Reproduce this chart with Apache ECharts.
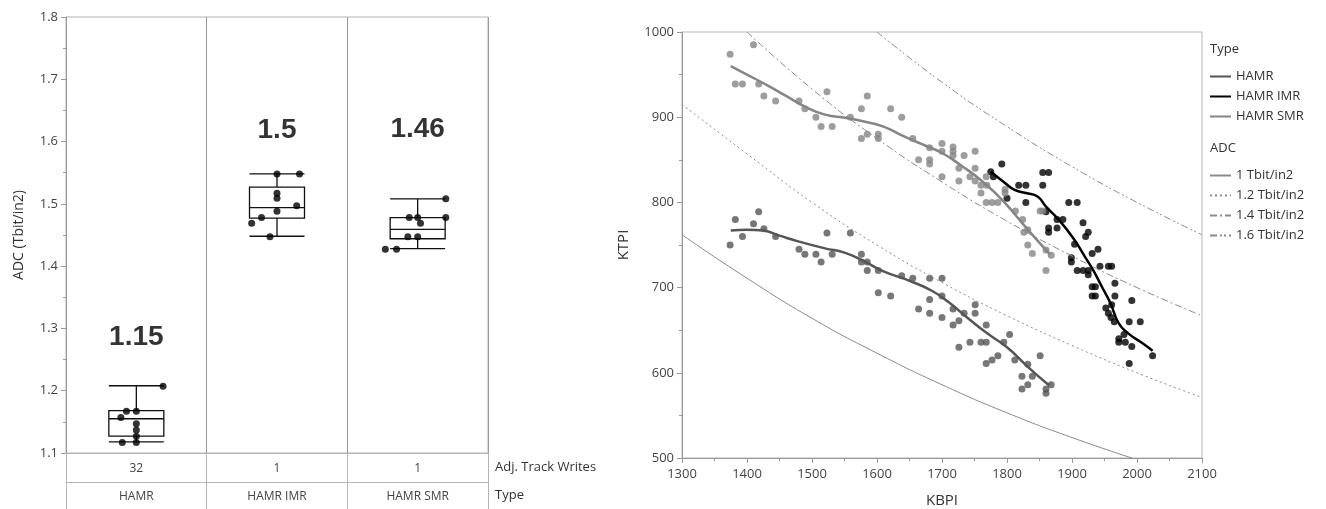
<!DOCTYPE html>
<html>
<head>
<meta charset="utf-8">
<title>ADC by type / KTPI vs KBPI</title>
<script src="https://cdn.jsdelivr.net/npm/echarts@6/dist/echarts.min.js"></script>
<style>
  html, body { margin: 0; padding: 0; background: #fff; }
  #chart { width: 1326px; height: 509px; }
</style>
</head>
<body>
<div id="chart"></div>
<script>
// left panel: ADC per type
var types = ['HAMR', 'HAMR IMR', 'HAMR SMR']
var trackWrites = ['32', '1', '1']
// [low whisker, Q1, median, Q3, high whisker]
var boxStats = [
  [1.118, 1.127, 1.155, 1.168, 1.208],
  [1.448, 1.477, 1.494, 1.527, 1.548],
  [1.428, 1.444, 1.459, 1.478, 1.508]
]
var hamrAdc = [1.207, 1.167, 1.167, 1.157, 1.147, 1.137, 1.127, 1.117, 1.117]
var hamrJitter = [0.19, -0.07, 0, -0.11, 0, 0, 0, -0.10, 0]
var imrAdc = [1.548, 1.548, 1.517, 1.509, 1.497, 1.488, 1.478, 1.469, 1.447]
var imrJitter = [0, 0.16, 0, 0, 0.14, 0, -0.11, -0.18, -0.05]
var smrAdc = [1.508, 1.478, 1.478, 1.478, 1.469, 1.447, 1.447, 1.427, 1.427]
var smrJitter = [0.2, -0.06, 0, 0.2, 0.02, -0.07, 0, -0.23, -0.15]
var meanLabelY = [1.285, 1.618, 1.62]

// right panel: KTPI vs KBPI
var hamrPts = [[1374,750],[1382,780],[1393,760],[1410,775],[1418,789],[1426,769],[1444,760],[1480,745],[1489,739],
  [1506,739],[1514,730],[1523,764],[1531,739],[1559,764],[1576,739],[1576,730],[1585,730],[1585,720],[1602,720],
  [1602,694],[1621,690],[1638,714],[1655,711],[1664,675],[1681,711],[1681,686],[1681,670],[1700,711],[1700,690],
  [1700,665],[1717,675],[1717,656],[1726,661],[1726,630],[1734,670],[1743,636],[1751,670],[1751,680],[1760,636],
  [1768,656],[1768,636],[1768,611],[1777,615],[1786,620],[1795,636],[1804,645],[1812,615],[1832,610],[1851,620],
  [1823,596],[1839,596],[1832,586],[1823,581],[1860,581],[1868,586],[1860,576]]
var imrPts = [[1775,836],[1779,830],[1792,845],[1800,805],[1818,820],[1829,820],[1829,800],[1855,835],[1864,835],
  [1855,820],[1860,789],[1864,770],[1864,765],[1877,780],[1886,780],[1877,770],[1895,800],[1908,800],[1917,776],
  [1925,765],[1921,760],[1904,751],[1899,735],[1899,730],[1908,720],[1917,720],[1925,720],[1925,715],[1931,740],
  [1940,745],[1943,725],[1956,725],[1961,725],[1931,701],[1936,701],[1931,690],[1936,690],[1966,705],[1966,690],
  [1952,676],[1956,670],[1960,665],[1965,660],[1961,680],[1992,685],[1988,660],[2005,660],[1972,640],[1982,636],
  [1972,636],[1992,631],[1980,645],[1988,611],[2024,620]]
var smrPts = [[1374,974],[1382,939],[1393,939],[1410,985],[1418,939],[1426,925],[1444,919],[1480,919],[1489,910],
  [1506,900],[1514,889],[1523,930],[1531,889],[1559,900],[1576,875],[1576,910],[1585,925],[1585,880],[1602,880],
  [1602,875],[1621,910],[1638,900],[1655,875],[1664,850],[1681,864],[1681,850],[1681,845],[1700,869],[1700,860],
  [1700,830],[1717,865],[1717,860],[1717,855],[1726,840],[1726,825],[1734,855],[1743,830],[1751,860],[1751,840],
  [1751,825],[1760,820],[1760,811],[1768,830],[1769,820],[1768,800],[1777,800],[1786,800],[1797,815],[1797,811],
  [1813,790],[1824,780],[1851,790],[1855,790],[1832,768],[1826,765],[1832,750],[1839,740],[1860,744],[1868,738],
  [1860,720]]
var hamrFit = [[1375,767],[1400,768],[1425,767],[1450,761],[1480,754],[1520,746],[1550,741],[1580,731],[1610,719],
  [1650,708],[1685,696],[1710,683],[1740,664],[1770,646],[1800,630],[1832,607],[1865,585]]
var imrFit = [[1775,836],[1795,824],[1811,815],[1829,811],[1847,807],[1860,795],[1878,781],[1902,758],[1920,736],
  [1933,720],[1946,701],[1959,682],[1972,658],[1987,646],[2008,635],[2024,626]]
var smrFit = [[1375,960],[1400,950],[1430,938],[1460,925],[1490,912],[1520,903],[1553,899],[1580,895],[1610,889],
  [1640,878],[1670,868],[1700,858],[1730,843],[1760,826],[1795,801],[1832,768],[1866,739]]
// ADC reference curves
var adc1 = [[1300,762],[1400,711],[1500,664],[1600,623],[1700,586],[1800,553],[1900,524],[2000,498]]
var adc12 = [[1300,915],[1400,857],[1500,800],[1600,750],[1700,706],[1800,667],[1900,632],[2000,600],[2100,571]]
var adc14 = [[1400,1000],[1500,933],[1600,875],[1700,824],[1800,778],[1900,737],[2000,700],[2100,667]]
var adc16 = [[1600,1000],[1700,941],[1800,889],[1900,842],[2000,800],[2100,762]]

var FONT = 'Open Sans'
var chart = echarts.init(document.getElementById('chart'))

function jittered(vals, jit, idx) {
  return vals.map(function(v, i) { return [idx + jit[i], v] })
}
function mean(arr) {
  return arr.reduce(function(a, b) { return a + b }, 0) / arr.length
}
var means = [mean(hamrAdc), mean(imrAdc), mean(smrAdc)]

var tickLbl = { color: '#444', fontFamily: FONT, fontSize: 13 }
var plain = function(v) { return String(v) }

chart.setOption({
  animation: false,
  textStyle: { fontFamily: FONT },
  grid: [
    { left: 66, top: 17, width: 422, height: 436, show: true, borderColor: '#b5b5b5', borderWidth: 1,
      outerBoundsMode: 'none' },
    { left: 682, top: 32, width: 520, height: 426, show: true, borderColor: '#b5b5b5', borderWidth: 1,
      outerBoundsMode: 'none' }
  ],
  xAxis: [
    {
      gridIndex: 0, type: 'category', data: types,
      axisLine: { onZero: false, lineStyle: { color: '#b5b5b5' } },
      axisTick: { show: true, length: 29, interval: 0, lineStyle: { color: '#b5b5b5' } },
      axisLabel: { margin: 10, formatter: function(v, i) { return trackWrites[i] }, color: '#444', fontSize: 12 },
      splitLine: { show: true, interval: 0, lineStyle: { color: '#999' } }
    },
    {
      gridIndex: 0, type: 'category', data: types, offset: 29, position: 'bottom',
      axisLine: { onZero: false, lineStyle: { color: '#b5b5b5' } },
      axisTick: { show: true, length: 30, interval: 0, lineStyle: { color: '#b5b5b5' } },
      axisLabel: { margin: 9, color: '#444', fontSize: 12 }
    },
    { gridIndex: 0, type: 'value', min: -0.5, max: 2.5, show: false, axisLine: { onZero: false } },
    {
      gridIndex: 1, type: 'value', min: 1300, max: 2100, interval: 100,
      name: 'KBPI', nameLocation: 'middle', nameGap: 35,
      nameTextStyle: { color: '#333', fontSize: 15 },
      axisLine: { onZero: false, lineStyle: { color: '#999' } },
      axisTick: { length: 5, lineStyle: { color: '#999' } },
      minorTick: { show: true, splitNumber: 2, length: 3, lineStyle: { color: '#999' } },
      axisLabel: Object.assign({ margin: 10, formatter: plain }, tickLbl),
      splitLine: { show: false }
    }
  ],
  yAxis: [
    {
      gridIndex: 0, type: 'value', min: 1.1, max: 1.8, interval: 0.1,
      name: 'ADC (Tbit/in2)', nameLocation: 'middle', nameGap: 40,
      nameTextStyle: { color: '#333', fontSize: 14 },
      axisLine: { show: true, onZero: false, lineStyle: { color: '#999' } },
      axisTick: { show: true, length: 5, lineStyle: { color: '#999' } },
      minorTick: { show: true, splitNumber: 2, length: 3, lineStyle: { color: '#999' } },
      axisLabel: Object.assign({ margin: 8 }, tickLbl),
      splitLine: { show: false }
    },
    {
      gridIndex: 1, type: 'value', min: 500, max: 1000, interval: 100,
      name: 'KTPI', nameLocation: 'middle', nameGap: 51,
      nameTextStyle: { color: '#333', fontSize: 15 },
      axisLine: { show: true, onZero: false, lineStyle: { color: '#999' } },
      axisTick: { show: true, length: 5, lineStyle: { color: '#999' } },
      minorTick: { show: true, splitNumber: 2, length: 3, lineStyle: { color: '#999' } },
      axisLabel: Object.assign({ margin: 8, formatter: plain }, tickLbl),
      splitLine: { show: false }
    }
  ],
  legend: [
    {
      left: 1209, top: 70, orient: 'vertical', padding: 0, itemGap: 7,
      itemWidth: 21, itemHeight: 14, itemStyle: { opacity: 0 },
      textStyle: { color: '#333', fontSize: 13, fontFamily: FONT },
      data: ['HAMR', 'HAMR IMR', 'HAMR SMR']
    },
    {
      left: 1209, top: 169, orient: 'vertical', padding: 0, itemGap: 7,
      itemWidth: 21, itemHeight: 14, itemStyle: { opacity: 0 },
      textStyle: { color: '#333', fontSize: 13, fontFamily: FONT },
      data: ['1 Tbit/in2', '1.2 Tbit/in2', '1.4 Tbit/in2', '1.6 Tbit/in2']
    }
  ],
  graphic: [
    { type: 'text', left: 495, top: 461, style: { text: 'Adj. Track Writes', fill: '#333', font: '13px "Open Sans"' } },
    { type: 'text', left: 495, top: 489, style: { text: 'Type', fill: '#333', font: '13px "Open Sans"' } },
    { type: 'text', left: 1210, top: 43, style: { text: 'Type', fill: '#333', font: '13px "Open Sans"' } },
    { type: 'text', left: 1210, top: 142, style: { text: 'ADC', fill: '#333', font: '13px "Open Sans"' } }
  ],
  series: [
    {
      type: 'boxplot', xAxisIndex: 0, yAxisIndex: 0, data: boxStats,
      boxWidth: [55, 55],
      itemStyle: { color: 'transparent', borderColor: '#111', borderWidth: 1.3 }
    },
    {
      type: 'scatter', xAxisIndex: 2, yAxisIndex: 0, symbolSize: 7,
      itemStyle: { color: '#000' },
      data: jittered(hamrAdc, hamrJitter, 0).concat(jittered(imrAdc, imrJitter, 1), jittered(smrAdc, smrJitter, 2))
    },
    {
      type: 'scatter', xAxisIndex: 2, yAxisIndex: 0, symbolSize: 0,
      data: meanLabelY.map(function(y, i) { return [i, y] }),
      label: {
        show: true, position: 'inside', color: '#000', textBorderWidth: 0,
        fontFamily: 'Liberation Sans', fontWeight: 'bold', fontSize: 28,
        formatter: function(p) { return String(parseFloat(means[p.dataIndex].toFixed(2))) }
      }
    },
    // ADC reference curves
    { name: '1 Tbit/in2', type: 'line', xAxisIndex: 3, yAxisIndex: 1, data: adc1, smooth: true, symbol: 'none',
      lineStyle: { color: '#8a8a8a', width: 1, type: 'solid' }, itemStyle: { color: '#8a8a8a' } },
    { name: '1.2 Tbit/in2', type: 'line', xAxisIndex: 3, yAxisIndex: 1, data: adc12, smooth: true, symbol: 'none',
      lineStyle: { color: '#8a8a8a', width: 1, type: [2, 3] }, itemStyle: { color: '#8a8a8a' } },
    { name: '1.4 Tbit/in2', type: 'line', xAxisIndex: 3, yAxisIndex: 1, data: adc14, smooth: true, symbol: 'none',
      lineStyle: { color: '#8a8a8a', width: 1, type: [7, 3, 2, 3] }, itemStyle: { color: '#8a8a8a' } },
    { name: '1.6 Tbit/in2', type: 'line', xAxisIndex: 3, yAxisIndex: 1, data: adc16, smooth: true, symbol: 'none',
      lineStyle: { color: '#8a8a8a', width: 1, type: [7, 3, 2, 2, 2, 3] }, itemStyle: { color: '#8a8a8a' } },
    // fit lines (first so the legend picks the line icon)
    { name: 'HAMR', type: 'line', xAxisIndex: 3, yAxisIndex: 1, data: hamrFit, smooth: true, symbol: 'none', z: 4,
      lineStyle: { color: '#555', width: 2.5 }, itemStyle: { color: '#555' } },
    { name: 'HAMR IMR', type: 'line', xAxisIndex: 3, yAxisIndex: 1, data: imrFit, smooth: true, symbol: 'none', z: 4,
      lineStyle: { color: '#000', width: 2.5 }, itemStyle: { color: '#000' } },
    { name: 'HAMR SMR', type: 'line', xAxisIndex: 3, yAxisIndex: 1, data: smrFit, smooth: true, symbol: 'none', z: 4,
      lineStyle: { color: '#858585', width: 2.5 }, itemStyle: { color: '#858585' } },
    { name: 'HAMR', type: 'scatter', xAxisIndex: 3, yAxisIndex: 1, data: hamrPts, symbolSize: 7,
      itemStyle: { color: '#555' } },
    { name: 'HAMR IMR', type: 'scatter', xAxisIndex: 3, yAxisIndex: 1, data: imrPts, symbolSize: 7,
      itemStyle: { color: '#000' } },
    { name: 'HAMR SMR', type: 'scatter', xAxisIndex: 3, yAxisIndex: 1, data: smrPts, symbolSize: 7,
      itemStyle: { color: '#858585' } }
  ]
})
</script>
</body>
</html>
